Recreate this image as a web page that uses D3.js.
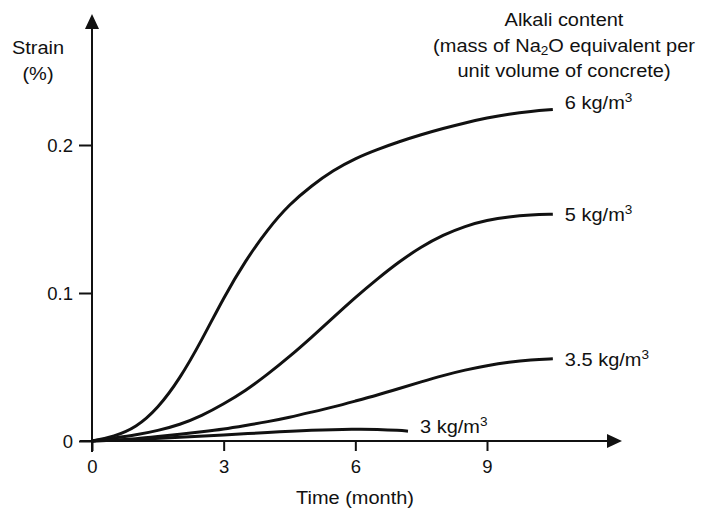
<!DOCTYPE html>
<html>
<head>
<meta charset="utf-8">
<script src="https://cdn.jsdelivr.net/npm/d3@7"></script>
<style>
  html, body { margin: 0; padding: 0; background: #fff; }
  svg { display: block; font-family: "Liberation Sans", Arial, sans-serif; }
</style>
</head>
<body>
<svg id="chart" width="706" height="509"></svg>
<script>
// Expansion strain over time for four alkali contents
const months = [0, 0.5, 1, 1.5, 2, 2.5, 3, 3.5, 4, 4.5, 5, 5.5, 6, 6.5, 7, 7.5, 8, 8.5, 9, 9.5, 10, 10.5];
const strain6 = [0, 0.003, 0.009, 0.022, 0.042, 0.068, 0.097, 0.122, 0.143, 0.160, 0.1725, 0.183, 0.191, 0.197, 0.2023, 0.207, 0.2112, 0.215, 0.2183, 0.221, 0.2228, 0.224];
const strain5 = [0, 0.002, 0.004, 0.007, 0.011, 0.017, 0.025, 0.034, 0.045, 0.057, 0.070, 0.0835, 0.097, 0.1095, 0.1212, 0.1312, 0.1392, 0.1452, 0.1492, 0.1516, 0.1528, 0.1532];
const strain35 = [0, 0.0005, 0.0015, 0.003, 0.0045, 0.0062, 0.008, 0.0105, 0.013, 0.016, 0.0195, 0.023, 0.027, 0.031, 0.0355, 0.040, 0.0443, 0.048, 0.051, 0.0533, 0.0548, 0.0555];
const months3 = [0, 1, 2, 3, 4, 5, 6, 6.5, 7, 7.2];
const strain3 = [0, 0.001, 0.0025, 0.004, 0.0058, 0.0073, 0.0081, 0.0079, 0.0072, 0.0066];

const seriesNames = ["6", "5", "3.5", "3"];
const xTicks = [0, 3, 6, 9];
const xTickLabels = ["0", "3", "6", "9"];
const yTicks = [0, 0.1, 0.2];
const yTickLabels = ["0", "0.1", "0.2"];

const series = [
  { name: seriesNames[0], xs: months, ys: strain6, dy: -7 },
  { name: seriesNames[1], xs: months, ys: strain5, dy: 0 },
  { name: seriesNames[2], xs: months, ys: strain35, dy: 0 },
  { name: seriesNames[3], xs: months3, ys: strain3, dy: -5 }
];

const svg = d3.select("#chart");
const ink = "#111";
const fontSize = 18.5;
const stretch = 1.08;

const x = d3.scaleLinear().domain([0, 9]).range([92, 487]);
const y = d3.scaleLinear().domain([0, 0.2]).range([441, 145]);

// Axis lines with arrowheads
const xEnd = 622, yTop = 14;
svg.append("line").attr("x1", 80).attr("x2", xEnd - 12)
  .attr("y1", y(0)).attr("y2", y(0)).attr("stroke", ink).attr("stroke-width", 2);
svg.append("line").attr("x1", x(0)).attr("x2", x(0))
  .attr("y1", y(0) + 11).attr("y2", yTop + 12).attr("stroke", ink).attr("stroke-width", 2);
svg.append("path")
  .attr("d", `M${xEnd},${y(0)} L${xEnd - 15},${y(0) - 7} L${xEnd - 15},${y(0) + 7} Z`)
  .attr("fill", ink);
svg.append("path")
  .attr("d", `M${x(0)},${yTop} L${x(0) - 7},${yTop + 15} L${x(0) + 7},${yTop + 15} Z`)
  .attr("fill", ink);

// Axes (ticks and labels only)
const xAxis = d3.axisBottom(x).tickValues(xTicks).tickSize(10).tickPadding(6)
  .tickFormat((d, i) => xTickLabels[i]);
const yAxis = d3.axisLeft(y).tickValues(yTicks).tickSize(13).tickPadding(6)
  .tickFormat((d, i) => yTickLabels[i]);

const gx = svg.append("g").attr("transform", `translate(0,${y(0)})`).call(xAxis);
const gy = svg.append("g").attr("transform", `translate(${x(0)},0)`).call(yAxis);
[gx, gy].forEach(g => {
  g.select(".domain").remove();
  g.selectAll(".tick line").attr("stroke", ink).attr("stroke-width", 2);
  g.selectAll(".tick text").attr("fill", ink).attr("font-size", fontSize)
    .attr("font-family", "Liberation Sans, Arial, sans-serif");
});
gx.selectAll(".tick text").attr("dy", "0.85em");
gy.selectAll(".tick text").attr("x", -19).attr("dy", "0.36em");

// Smooth curves through the readings
const line = d3.line()
  .x(d => x(d[0]))
  .y(d => y(d[1]))
  .curve(d3.curveBasis);

series.forEach(s => {
  const pts = s.xs.map((m, i) => [m, s.ys[i]]);
  svg.append("path").datum(pts)
    .attr("d", line)
    .attr("fill", "none")
    .attr("stroke", ink)
    .attr("stroke-width", 3)
    .attr("stroke-linecap", "butt");

  const last = pts[pts.length - 1];
  const t = svg.append("text")
    .attr("transform", `translate(${x(last[0]) + 12},${y(last[1]) + s.dy}) scale(${stretch},1)`)
    .attr("dy", "0.36em")
    .attr("font-size", fontSize)
    .attr("fill", ink);
  t.append("tspan").text(s.name + " kg/m");
  t.append("tspan").attr("font-size", fontSize * 0.68).attr("dy", "-0.55em").text("3");
});

// Text helper with slight horizontal stretch
function label(txt, cx, cy, anchor) {
  return svg.append("text")
    .attr("transform", `translate(${cx},${cy}) scale(${stretch},1)`)
    .attr("text-anchor", anchor || "middle")
    .attr("dy", "0.36em")
    .attr("font-size", fontSize)
    .attr("fill", ink)
    .text(txt);
}

label("Strain", 38, 47);
label("(%)", 38, 73);
label("Time (month)", 355, 497);

label("Alkali content", 564, 19);
const l2 = svg.append("text")
  .attr("transform", `translate(564,45) scale(${stretch},1)`)
  .attr("text-anchor", "middle").attr("dy", "0.36em")
  .attr("font-size", fontSize).attr("fill", ink);
l2.append("tspan").text("(mass of Na");
l2.append("tspan").attr("font-size", fontSize * 0.68).attr("dy", "0.3em").text("2");
l2.append("tspan").attr("dy", "-0.2em").text("O equivalent per");
label("unit volume of concrete)", 564, 70);
</script>
</body>
</html>
